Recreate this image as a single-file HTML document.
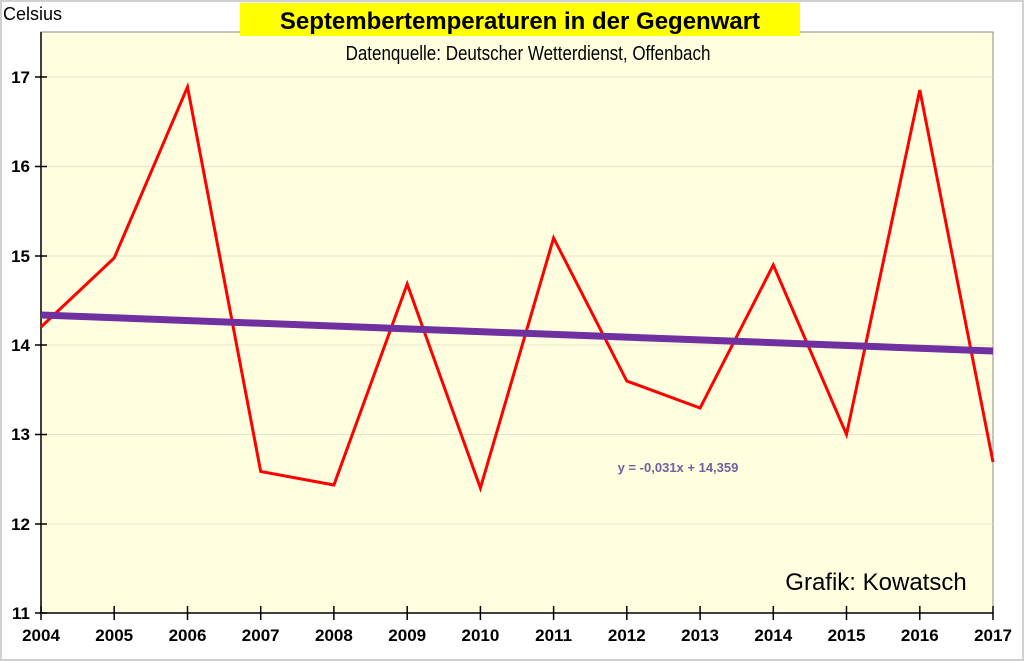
<!DOCTYPE html>
<html><head><meta charset="utf-8"><style>
html,body{margin:0;padding:0;background:#fff;}
svg{display:block;}
</style></head><body>
<svg width="1024" height="661" xmlns="http://www.w3.org/2000/svg" font-family="Liberation Sans, Arial, sans-serif">
<rect x="0" y="0" width="1024" height="661" fill="#fff"/>
<rect x="1" y="1" width="1022" height="659" fill="none" stroke="#d0d0d0" stroke-width="2"/>
<rect x="41" y="32" width="952" height="581" fill="#ffffe0" stroke="#888" stroke-width="1"/>
<g stroke="#e4e4cc" stroke-width="1">
<line x1="41" x2="993" y1="524" y2="524"/><line x1="41" x2="993" y1="434.5" y2="434.5"/>
<line x1="41" x2="993" y1="345" y2="345"/><line x1="41" x2="993" y1="256" y2="256"/>
<line x1="41" x2="993" y1="166.5" y2="166.5"/><line x1="41" x2="993" y1="77" y2="77"/>
</g>
<line x1="41" y1="32" x2="41" y2="613" stroke="#000" stroke-width="1.5"/>
<line x1="41" y1="613" x2="993" y2="613" stroke="#000" stroke-width="1.5"/>
<g stroke="#000" stroke-width="1.5">
<line x1="35" x2="47" y1="613" y2="613"/><line x1="35" x2="47" y1="524" y2="524"/><line x1="35" x2="47" y1="434.5" y2="434.5"/>
<line x1="35" x2="47" y1="345" y2="345"/><line x1="35" x2="47" y1="256" y2="256"/><line x1="35" x2="47" y1="166.5" y2="166.5"/><line x1="35" x2="47" y1="77" y2="77"/>
</g>
<g font-size="17" font-weight="bold" text-anchor="end">
<text x="30" y="619">11</text><text x="30" y="530">12</text><text x="30" y="440">13</text><text x="30" y="351">14</text><text x="30" y="262">15</text><text x="30" y="172">16</text><text x="30" y="83">17</text>
</g>
<g stroke="#000" stroke-width="1.5">
<line x1="41" x2="41" y1="606" y2="620"/><line x1="114.2" x2="114.2" y1="606" y2="620"/><line x1="187.5" x2="187.5" y1="606" y2="620"/><line x1="260.7" x2="260.7" y1="606" y2="620"/><line x1="333.9" x2="333.9" y1="606" y2="620"/><line x1="407.2" x2="407.2" y1="606" y2="620"/><line x1="480.4" x2="480.4" y1="606" y2="620"/><line x1="553.6" x2="553.6" y1="606" y2="620"/><line x1="626.8" x2="626.8" y1="606" y2="620"/><line x1="700.1" x2="700.1" y1="606" y2="620"/><line x1="773.3" x2="773.3" y1="606" y2="620"/><line x1="846.5" x2="846.5" y1="606" y2="620"/><line x1="919.8" x2="919.8" y1="606" y2="620"/><line x1="993" x2="993" y1="606" y2="620"/>
</g>
<g font-size="17" font-weight="bold" text-anchor="middle">
<text x="41" y="641">2004</text><text x="114.2" y="641">2005</text><text x="187.5" y="641">2006</text><text x="260.7" y="641">2007</text><text x="333.9" y="641">2008</text><text x="407.2" y="641">2009</text><text x="480.4" y="641">2010</text><text x="553.6" y="641">2011</text><text x="626.8" y="641">2012</text><text x="700.1" y="641">2013</text><text x="773.3" y="641">2014</text><text x="846.5" y="641">2015</text><text x="919.8" y="641">2016</text><text x="993" y="641">2017</text>
</g>
<polyline fill="none" stroke="#ff0000" stroke-width="3" points="41,327 114.2,258 187.5,87 260.7,471.5 333.9,485 407.2,284 480.4,488 553.6,238 626.8,381 700.1,408 773.3,265 846.5,434.5 919.8,90 993,462"/>
<line x1="41" y1="315" x2="993" y2="351" stroke="#7030a0" stroke-width="7"/>
<text x="678" y="472" font-size="13" font-weight="bold" fill="#7060a0" text-anchor="middle">y = -0,031x + 14,359</text>
<text x="3" y="20" font-size="18">Celsius</text>
<rect x="240" y="3" width="560" height="33" fill="#ffff00"/>
<text x="520" y="29" font-size="24" font-weight="bold" text-anchor="middle">Septembertemperaturen in der Gegenwart</text>
<g transform="translate(528,60) scale(0.85,1)"><text x="0" y="0" font-size="20" text-anchor="middle">Datenquelle: Deutscher Wetterdienst, Offenbach</text></g>
<text x="876" y="590" font-size="24" text-anchor="middle">Grafik: Kowatsch</text>
</svg>
</body></html>
